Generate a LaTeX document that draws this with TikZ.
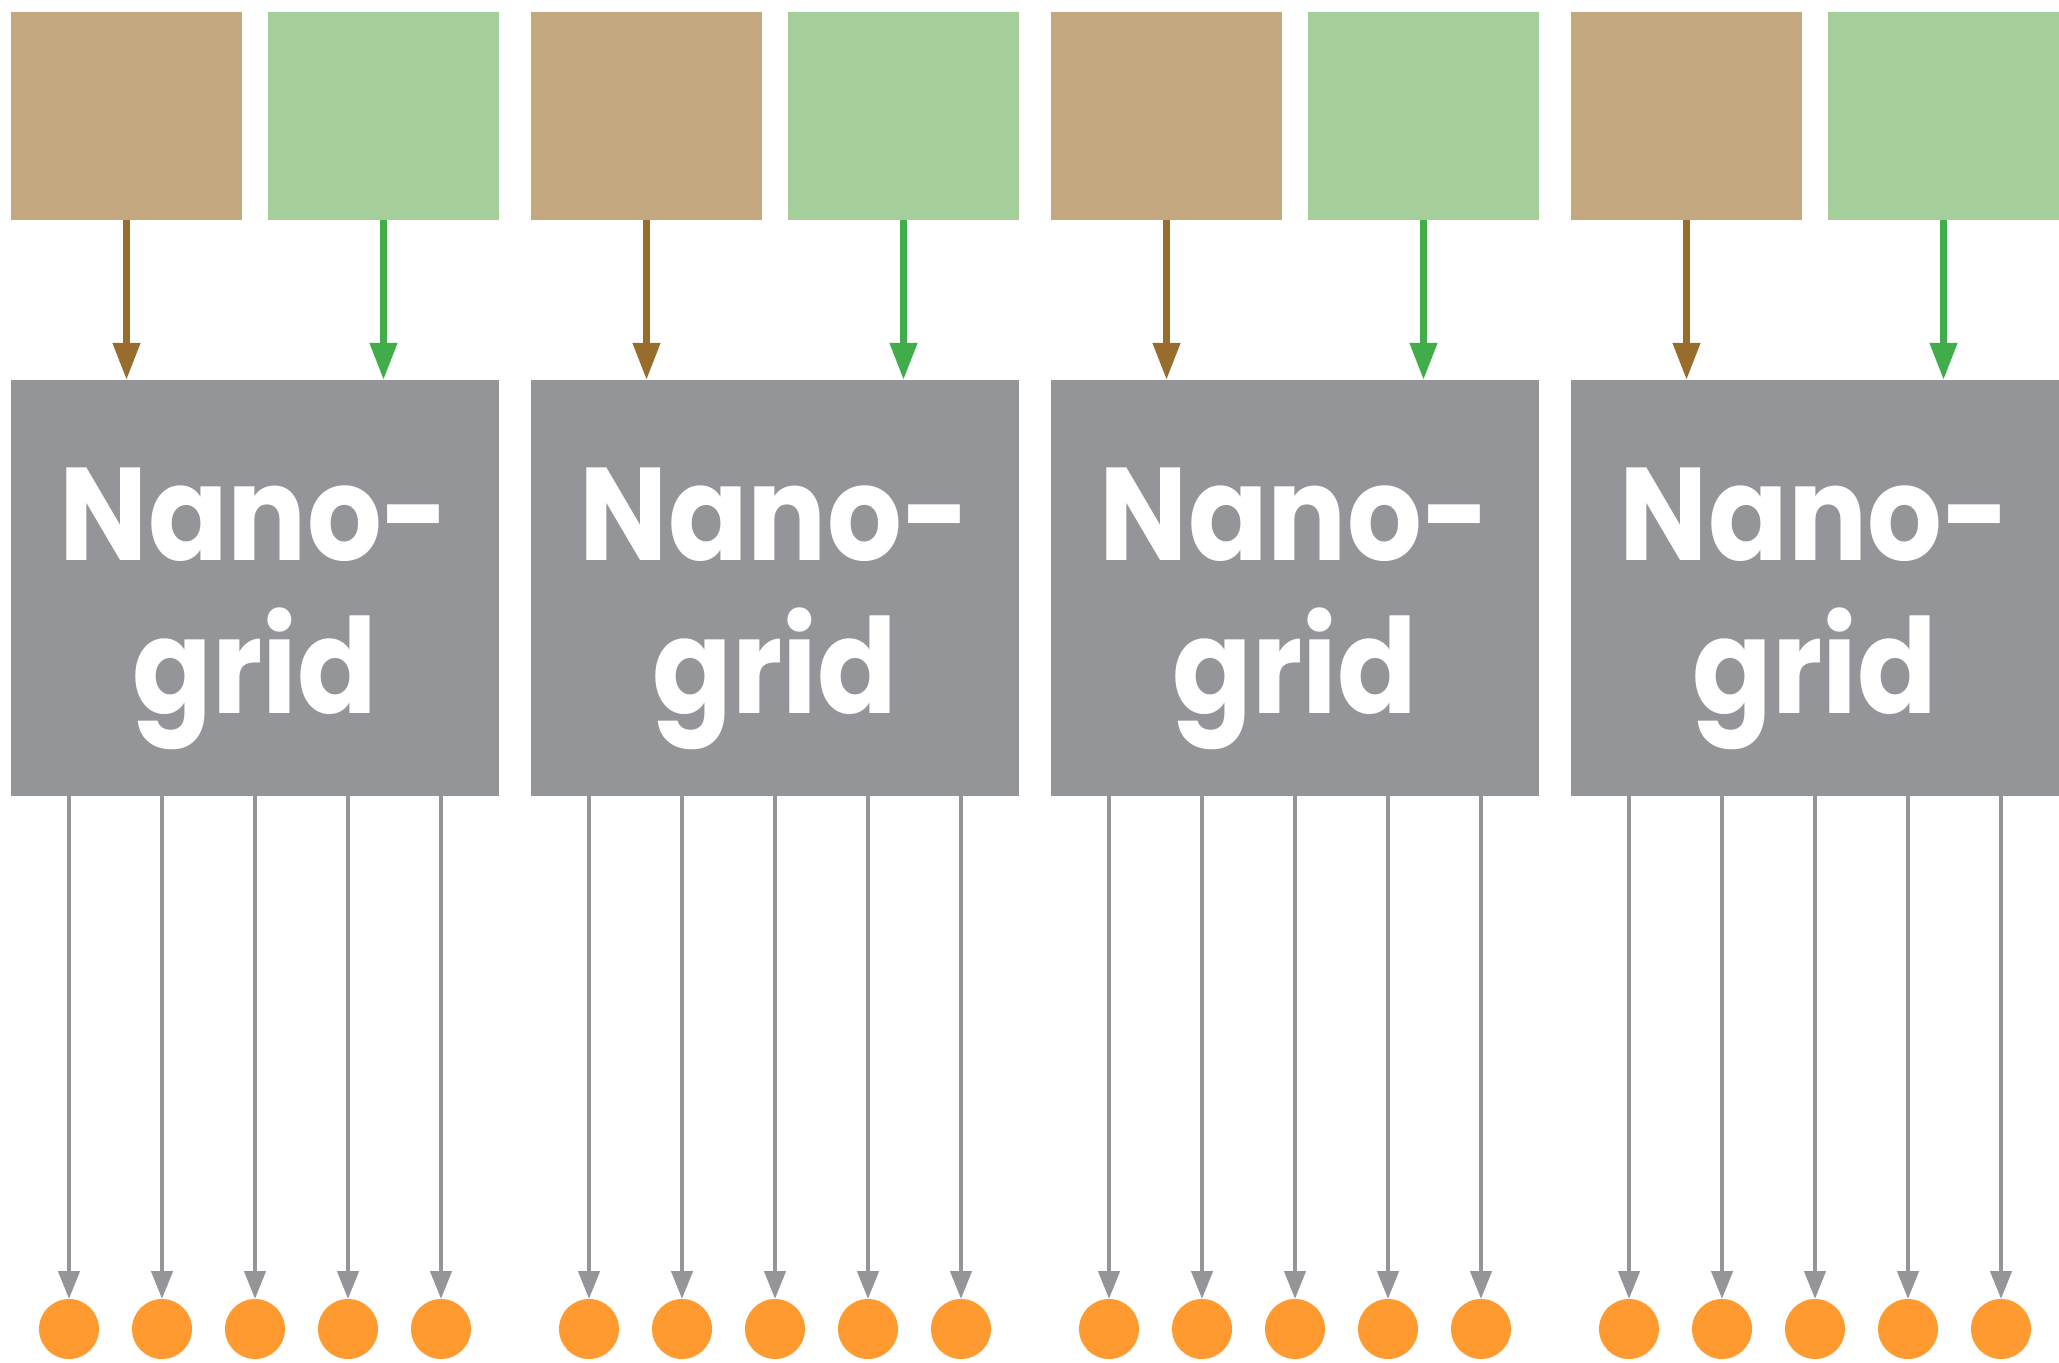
\documentclass[tikz,border=0pt]{standalone}
\usepackage{fontspec}
\setmainfont{Poppins}
\newfontfamily\gridfont{Poppins}[FakeStretch=0.89]
\usetikzlibrary{arrows.meta}
\definecolor{boxbrown}{HTML}{C4A880}
\definecolor{boxgreen}{HTML}{A4CF9B}
\definecolor{arrbrown}{HTML}{976C2D}
\definecolor{arrgreen}{HTML}{41AD4A}
\definecolor{gridgray}{HTML}{949598}
\definecolor{loadorange}{HTML}{FF9A30}
\begin{document}
\begin{tikzpicture}[x=0.5pt,y=-0.5pt,
  srcbox/.style={rectangle,inner sep=0pt,outer sep=0pt,minimum width=115.5pt,minimum height=104pt},
  srcbrown/.style={srcbox,fill=boxbrown},
  srcgreen/.style={srcbox,fill=boxgreen},
  gridbox/.style={rectangle,inner sep=0pt,outer sep=0pt,minimum width=244pt,minimum height=208pt,fill=gridgray},
  gridlabel/.style={text=white,align=center,inner sep=0pt,font=\gridfont\bfseries\fontsize{66}{76.5}\selectfont},
  loadnode/.style={circle,inner sep=0pt,outer sep=0pt,minimum size=30pt,fill=loadorange},
  brownarr/.style={draw=arrbrown,line width=3.5pt,-{Triangle[length=18.5pt,width=13pt]}},
  greenarr/.style={draw=arrgreen,line width=3.5pt,-{Triangle[length=18.5pt,width=13pt]}},
  grayarr/.style={draw=gridgray,line width=2.25pt,-{Triangle[length=14pt,width=10.5pt]}}
]
\path[use as bounding box] (0,0) rectangle (2059,1363);
\foreach \g in {0,1,2,3} {
  \pgfmathsetmacro\ox{520*\g}
  \node[srcbrown] (b\g) at (\ox+126.5,116) {};
  \node[srcgreen] (s\g) at (\ox+383.5,116) {};
  \node[gridbox] (n\g) at (\ox+255,588) {};
  \node[gridlabel] (t\g) at (\ox+255,609) {Nano-\\grid};
  \draw[brownarr] (b\g.south) -- (b\g.south |- n\g.north);
  \draw[greenarr] (s\g.south) -- (s\g.south |- n\g.north);
  \foreach \k in {1,...,5} {
    \node[loadnode] (c\g\k) at (\ox+255+93*\k-279,1329) {};
    \draw[grayarr] (c\g\k.north |- n\g.south) -- (c\g\k.north);
  }
}
\end{tikzpicture}
\end{document}
